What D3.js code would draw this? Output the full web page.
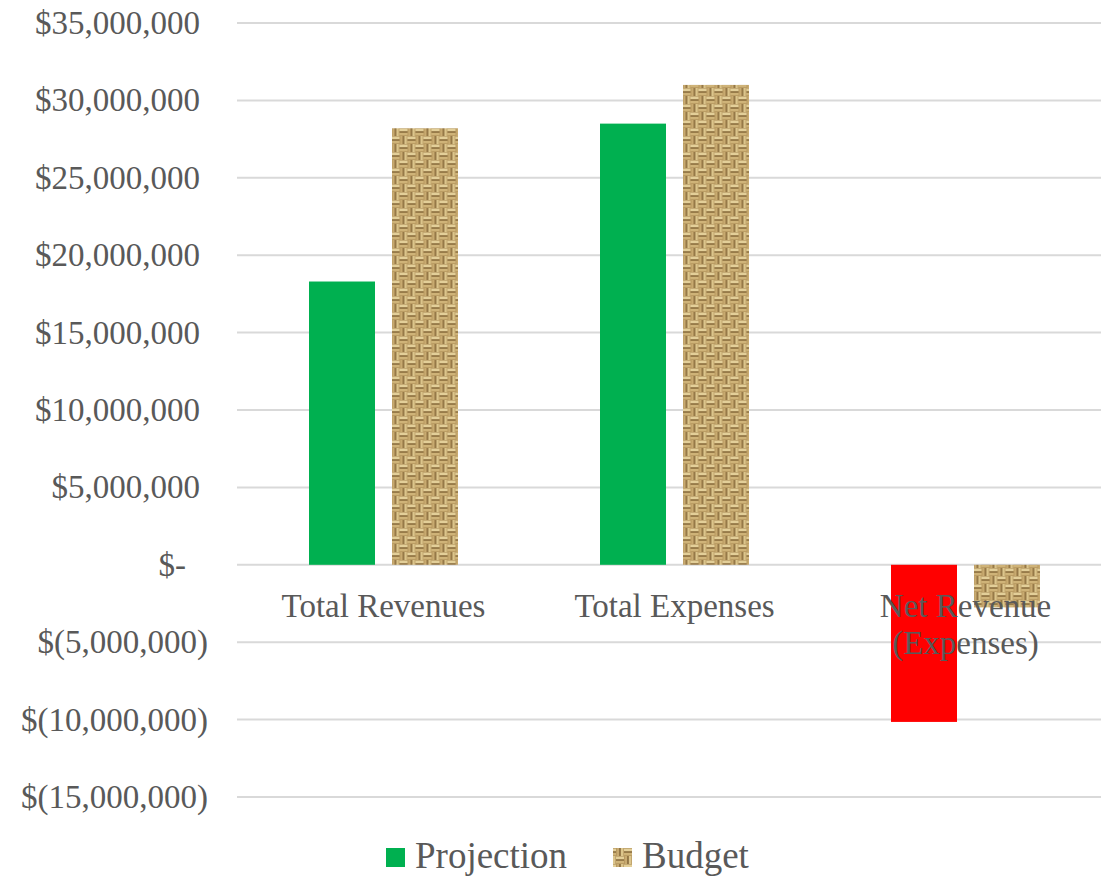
<!DOCTYPE html>
<html>
<head>
<meta charset="utf-8">
<script src="https://cdn.jsdelivr.net/npm/d3@7"></script>
<style>
  body { margin: 0; background: #fff; }
  text { font-family: "Liberation Serif", serif; fill: #595959; }
</style>
</head>
<body>
<script>
const width = 1101;
const height = 878;

const categories = ['Total Revenues', 'Total Expenses', 'Net Revenue (Expenses)'];
const projection = [18300000, 28500000, -10150000];
const budget = [28200000, 31000000, -2750000];
const yTicks = [-15000000, -10000000, -5000000, 0, 5000000, 10000000, 15000000, 20000000, 25000000, 30000000, 35000000];

const svg = d3.select('body')
              .append('svg')
              .attr('width', width)
              .attr('height', height);

// burlap-ish texture for budget bars
const defs = svg.append('defs');
const pat = defs.append('pattern')
                .attr('id', 'burlap')
                .attr('patternUnits', 'userSpaceOnUse')
                .attr('width', 16)
                .attr('height', 16);
pat.append('rect').attr('width', 16).attr('height', 16).attr('fill', '#a88850');
// woven strips: horizontal in some cells, vertical in others
const weave = [[0,0,'h'],[8,0,'v'],[0,8,'v'],[8,8,'h']];
weave.forEach(([x, y, dir]) => {
  if (dir === 'h') {
    pat.append('rect').attr('x', x).attr('y', y + 0.5).attr('width', 8).attr('height', 3).attr('fill', '#e3cf99');
    pat.append('rect').attr('x', x).attr('y', y + 4.5).attr('width', 8).attr('height', 3).attr('fill', '#cfb378');
    pat.append('rect').attr('x', x).attr('y', y + 3.5).attr('width', 8).attr('height', 1).attr('fill', '#765a2d');
  } else {
    pat.append('rect').attr('x', x + 0.5).attr('y', y).attr('width', 3).attr('height', 8).attr('fill', '#c8aa70');
    pat.append('rect').attr('x', x + 4.5).attr('y', y).attr('width', 3).attr('height', 8).attr('fill', '#dcc58c');
    pat.append('rect').attr('x', x + 3.5).attr('y', y).attr('width', 1).attr('height', 8).attr('fill', '#6f532a');
  }
});

const x = d3.scaleBand()
            .domain(categories)
            .range([238, 1111]);

const y = d3.scaleLinear()
            .domain([-15000000, 35000000])
            .range([797, 23]);

const barW = 66;
const gap = 17;

// gridlines
svg.append('g')
   .selectAll('line')
   .data(yTicks)
   .enter().append('line')
   .attr('x1', 237)
   .attr('x2', width)
   .attr('y1', d => y(d))
   .attr('y2', d => y(d))
   .attr('stroke', '#d9d9d9')
   .attr('stroke-width', 2);

// y labels, accounting-ish format
const fmt = d3.format(',');
function label(d) {
  if (d === 0) return '$-';
  if (d < 0) return '$(' + fmt(-d) + ')';
  return '$' + fmt(d);
}
svg.append('g')
   .selectAll('text')
   .data(yTicks)
   .enter().append('text')
   .attr('x', d => d < 0 ? 208 : (d === 0 ? 186 : 200))
   .attr('y', d => y(d) + 11)
   .attr('text-anchor', 'end')
   .style('font-size', '33px')
   .text(d => label(d));

// bars
const groups = svg.append('g')
   .selectAll('g')
   .data(categories)
   .enter().append('g')
   .attr('transform', d => `translate(${x(d) + x.bandwidth() / 2},0)`);

groups.append('rect')
   .attr('x', -barW - gap / 2)
   .attr('width', barW)
   .attr('y', (d, i) => y(Math.max(0, projection[i])))
   .attr('height', (d, i) => Math.abs(y(projection[i]) - y(0)))
   .attr('fill', (d, i) => projection[i] < 0 ? '#ff0000' : '#00b050');

groups.append('rect')
   .attr('x', gap / 2)
   .attr('width', barW)
   .attr('y', (d, i) => y(Math.max(0, budget[i])))
   .attr('height', (d, i) => Math.abs(y(budget[i]) - y(0)))
   .attr('fill', 'url(#burlap)');

// category labels (wrap the long one)
groups.each(function(d) {
  const g = d3.select(this);
  const lines = d.length > 16 ? ['Net Revenue', '(Expenses)'] : [d];
  lines.forEach((t, j) => {
    g.append('text')
     .attr('x', 0)
     .attr('y', 617 + j * 37)
     .attr('text-anchor', 'middle')
     .style('font-size', '33px')
     .text(t);
  });
});

// legend
const legend = svg.append('g');
legend.append('rect').attr('x', 386).attr('y', 848).attr('width', 19).attr('height', 19).attr('fill', '#00b050');
legend.append('text').attr('x', 415).attr('y', 868).style('font-size', '37px').text('Projection');
legend.append('rect').attr('x', 613).attr('y', 848).attr('width', 19).attr('height', 19).attr('fill', 'url(#burlap)');
legend.append('text').attr('x', 642).attr('y', 868).style('font-size', '37px').text('Budget');
</script>
</body>
</html>
